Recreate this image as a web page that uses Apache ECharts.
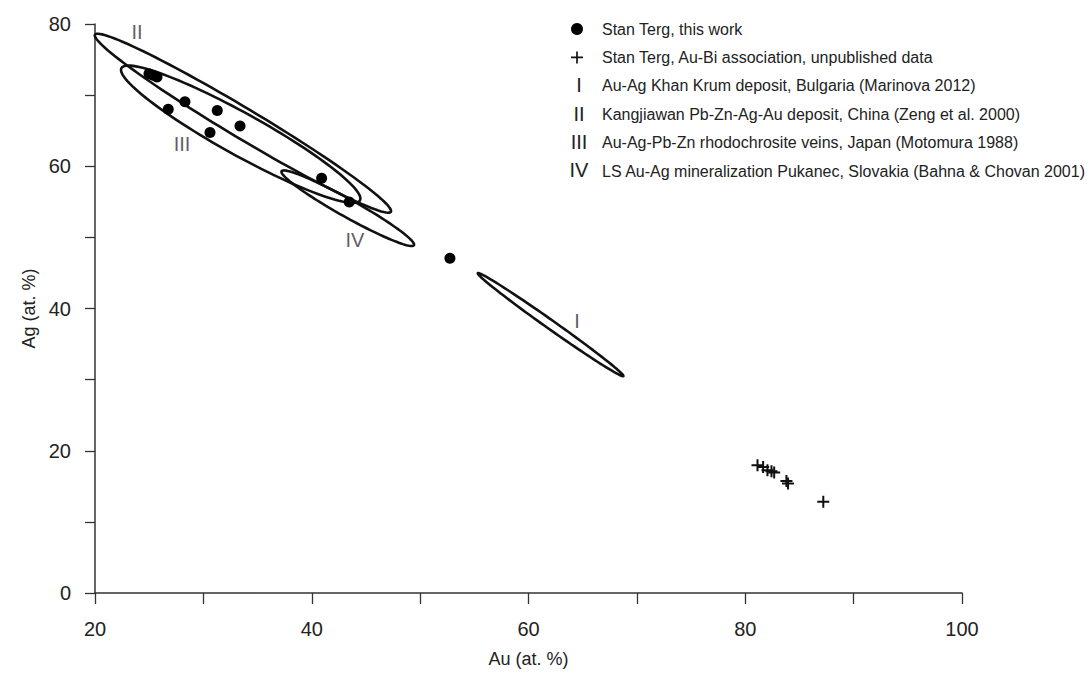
<!DOCTYPE html>
<html>
<head>
<meta charset="utf-8">
<script src="https://cdn.jsdelivr.net/npm/echarts@6/dist/echarts.min.js"></script>
<style>
html,body{margin:0;padding:0;background:#fff;}
#chart{width:1090px;height:673px;}
</style>
</head>
<body>
<div id="chart"></div>
<script>
// ---- Data (Au at.%, Ag at.%) ----
const stanTergThisWork = [
  [24.98, 73.0], [25.35, 72.8], [25.72, 72.55],
  [28.30, 69.06], [26.76, 68.0], [31.28, 67.85],
  [30.61, 64.74], [33.38, 65.66], [40.91, 58.32],
  [43.46, 54.97], [52.75, 47.05]
];
const stanTergAuBi = [
  [81.13, 17.97], [81.65, 17.73], [82.05, 17.27], [82.42, 17.13],
  [82.67, 16.94], [83.80, 15.73], [83.95, 15.40], [87.20, 12.84]
];
// Ellipse fields: [Au tip1, Ag tip1, Au tip2, Ag tip2, half-width (Ag units)]
const ellipseI   = [55.33, 44.96, 68.75, 30.50, 0.62];
const ellipseII  = [20.00, 78.50, 47.30, 53.60, 2.10];
const ellipseIII = [22.44, 73.80, 44.45, 55.20, 2.95];
const ellipseIV  = [37.22, 59.30, 49.43, 48.90, 1.25];
const ellipseNames = [
  'Au-Ag Khan Krum deposit, Bulgaria (Marinova 2012)',
  'Kangjiawan Pb-Zn-Ag-Au deposit, China (Zeng et al. 2000)',
  'Au-Ag-Pb-Zn rhodochrosite veins, Japan (Motomura 1988)',
  'LS Au-Ag mineralization Pukanec, Slovakia (Bahna & Chovan 2001)'
];
const numerals = ['I', 'II', 'III', 'IV'];
// label anchors in data coordinates
const numeralAnchors = [[64.47, 38.25], [23.87, 78.9], [28.03, 63.1], [43.99, 49.7]];
const seriesNames = ['Stan Terg, this work', 'Stan Terg, Au-Bi association, unpublished data'];
const xTicks = [20, 100, 10];
const yTicks = [0, 80, 10];
const labelStep = 20;

const FONT = '"Liberation Sans", Arial, sans-serif';
const plusPath = 'path://M5,0 L7,0 L7,12 L5,12 Z M0,5 L12,5 L12,7 L0,7 Z';

function renderEllipse(params, api) {
  const p1 = api.coord([api.value(0), api.value(1)]);
  const p2 = api.coord([api.value(2), api.value(3)]);
  const b = Math.abs(api.size([0, api.value(4)])[1]);
  const cx = (p1[0] + p2[0]) / 2, cy = (p1[1] + p2[1]) / 2;
  const dx = p2[0] - p1[0], dy = p2[1] - p1[1];
  const a = Math.hypot(dx, dy) / 2, ang = Math.atan2(dy, dx);
  const ca = Math.cos(ang), sa = Math.sin(ang);
  const pts = [];
  for (let i = 0; i < 120; i++) {
    const t = i / 120 * 2 * Math.PI;
    const ex = a * Math.cos(t), ey = b * Math.sin(t);
    pts.push([cx + ex * ca - ey * sa, cy + ex * sa + ey * ca]);
  }
  return { type: 'polygon', shape: { points: pts },
    style: { fill: 'none', stroke: '#111', lineWidth: 2.6 } };
}

const ellipses = [ellipseI, ellipseII, ellipseIII, ellipseIV];
const ellipseSeries = ellipses.map((e, i) => ({
  type: 'custom', name: ellipseNames[i], renderItem: renderEllipse,
  data: [e], encode: { x: [0, 2], y: [1, 3] }, silent: true, z: 3,
  itemStyle: { color: '#111' }
}));

const LEG_TOP = 21, LEG_ROW = 28.2, LEG_ITEM_H = 15.8;
const chart = echarts.init(document.getElementById('chart'), null, { renderer: 'svg' });
chart.setOption({
  animation: false,
  backgroundColor: '#fff',
  textStyle: { fontFamily: FONT },
  grid: { left: 95, right: 128, top: 24, bottom: 76 },
  legend: {
    orient: 'vertical', left: 557, top: LEG_TOP, padding: 0,
    itemWidth: 40, itemHeight: 12, itemGap: LEG_ROW - LEG_ITEM_H,
    selectedMode: false,
    textStyle: { fontSize: 16, color: '#222', fontFamily: FONT },
    data: [
      { name: seriesNames[0], icon: 'circle' },
      { name: seriesNames[1], icon: 'path://M4.3,0 L5.7,0 L5.7,10 L4.3,10 Z M0,4.3 L10,4.3 L10,5.7 L0,5.7 Z' },
      ...ellipseNames.map(n => ({ name: n, icon: 'rect', itemStyle: { color: 'rgba(0,0,0,0)', borderWidth: 0 } }))
    ]
  },
  graphic: numerals.map((n, i) => ({
    type: 'text', x: 579, y: LEG_TOP + LEG_ITEM_H / 2 + (i + 2) * LEG_ROW,
    style: { text: n, fontSize: 20, fill: '#222', fontFamily: FONT, align: 'center', verticalAlign: 'middle' }
  })),
  xAxis: {
    type: 'value', min: xTicks[0], max: xTicks[1], interval: xTicks[2],
    name: 'Au (at. %)', nameLocation: 'middle', nameGap: 57,
    nameTextStyle: { fontSize: 18, color: '#222' },
    axisLine: { show: true, lineStyle: { color: '#333', width: 1.5 } },
    axisTick: { show: true, length: 11, inside: false, lineStyle: { color: '#333', width: 1.3 } },
    axisLabel: { fontSize: 20, color: '#222', margin: 26, formatter: v => (v % labelStep === 0 ? String(v) : '') },
    splitLine: { show: false }
  },
  yAxis: {
    type: 'value', min: yTicks[0], max: yTicks[1], interval: yTicks[2],
    name: 'Ag (at. %)', nameLocation: 'middle', nameGap: 48,
    nameTextStyle: { fontSize: 18, color: '#222' },
    axisLine: { show: true, lineStyle: { color: '#333', width: 1.5 } },
    axisTick: { show: true, length: 10, inside: false, lineStyle: { color: '#333', width: 1.3 } },
    axisLabel: { fontSize: 20, color: '#222', margin: 24, formatter: v => (v % labelStep === 0 ? String(v) : '') },
    splitLine: { show: false }
  },
  series: [
    ...ellipseSeries,
    {
      type: 'scatter', name: seriesNames[0], data: stanTergThisWork,
      symbol: 'circle', symbolSize: 11, itemStyle: { color: '#000', opacity: 1 }, z: 4
    },
    {
      type: 'scatter', name: seriesNames[1], data: stanTergAuBi,
      symbol: plusPath, symbolSize: 12, itemStyle: { color: '#111', opacity: 1 }, z: 4
    },
    {
      type: 'scatter', name: 'labels', data: numeralAnchors.map((p, i) => ({ value: p, label: { formatter: numerals[i] } })),
      symbolSize: 0, silent: true, z: 5,
      label: { show: true, position: 'inside', fontSize: 20, color: '#333', fontFamily: FONT }
    }
  ]
});
</script>
</body>
</html>
